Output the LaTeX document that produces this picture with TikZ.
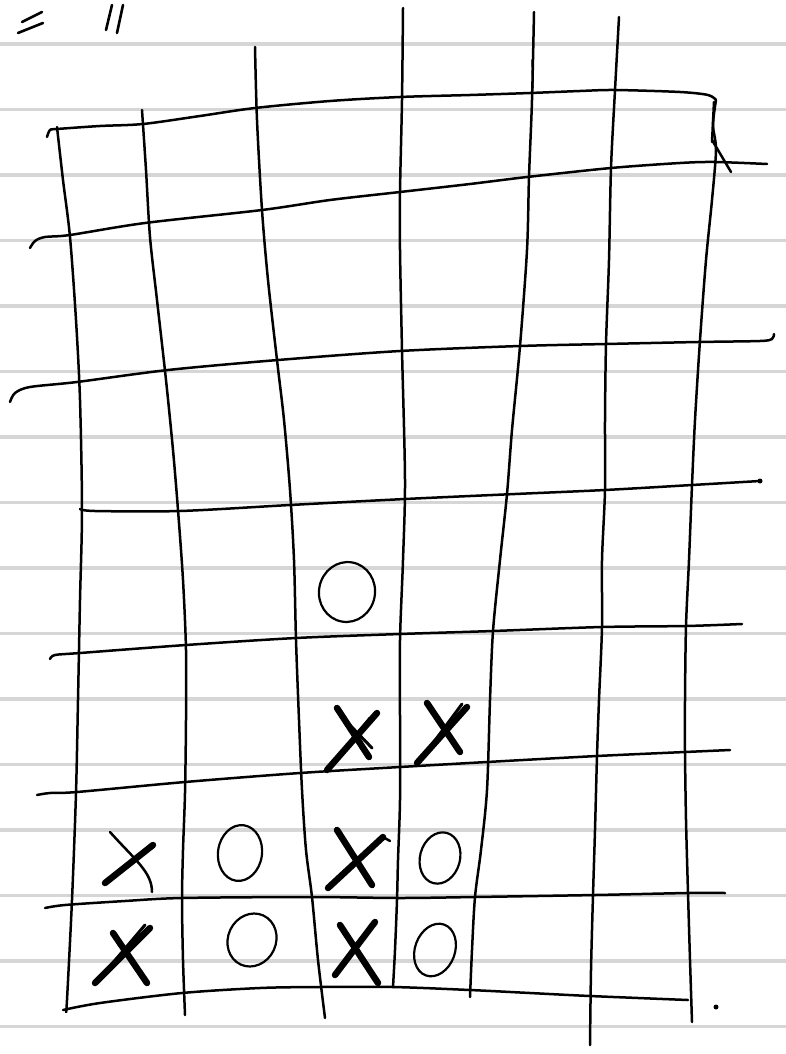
\documentclass[tikz,border=0pt]{standalone}
\begin{document}
\begin{tikzpicture}[x=1pt,y=-1pt,
  ink/.style={line width=2.5pt, line cap=round, line join=round, black},
  rule/.style={line width=3.5pt, black!16},
  xstroke/.style={line width=6.5pt, line cap=round, black},
  omark/.style={line width=2.2pt, black}]
\fill[white] (0,0) rectangle (786,1054);
\useasboundingbox (0,0) rectangle (786,1054);
% ruled paper
\foreach \i in {0,...,15} \draw[rule] (0,44+65.5*\i) -- (786,44+65.5*\i);
% marks at top left
\draw[ink,line width=2.6pt] (22,22)--(42,12) (18,33)--(43,23) (106,30)--(112,5) (117,33)--(123,5);
% vertical lines
\draw[ink] plot[smooth] coordinates {(57,127)(63,180)(70,237)(76,320)(80,400)(82,510)(80,600)(78,700)(76,793)(72,900)(67,1000)(66,1012)};
\draw[ink] plot[smooth] coordinates {(142,110)(146,170)(150,237)(157,300)(166,380)(173,450)(178,510)(183,580)(186,650)(186,720)(185,793)(183,850)(182,900)(183,960)(185,1015)};
\draw[ink] plot[smooth] coordinates {(255,47)(257,120)(262,210)(268,280)(277,360)(284,420)(290,490)(294,560)(296,640)(299,720)(302,790)(306,850)(312,897)(318,960)(325,1018)};
\draw[ink] plot[smooth] coordinates {(403,8)(402,100)(400,192)(400,250)(402,350)(405,480)(403,560)(400,640)(400,720)(400,800)(398,860)(397,900)(395,950)(393,987)};
\draw[ink] plot[smooth] coordinates {(534,12)(532,100)(529,177)(527,250)(520,346)(512,430)(507,494)(500,560)(493,631)(490,700)(487,790)(481,850)(475,897)(472,950)(470,997)};
\draw[ink,line width=1.5pt] (532,60)--(533,88);
\draw[ink] plot[smooth] coordinates {(619,17)(615,90)(611,168)(609,260)(606,344)(605,420)(605,490)(602,560)(602,627)(599,700)(597,756)(595,830)(593,895)(591,970)(590,1045)};
\draw[ink] plot[smooth] coordinates {(716,100)(713,125)(716,150)(712,200)(706,260)(700,340)(695,420)(692,485)(689,560)(686,626)(685,700)(685,752)(686,820)(688,893)(690,960)(692,1022)};
\draw[ink] (712,140)--(731,172);
\draw[ink] (714,102)--(712,142);
\fill (716,1007) circle (2.5pt);
% horizontal lines
\draw[ink] plot[smooth] coordinates {(47,137)(50,130)(57,129)(100,126)(143,124)(200,116)(255,108)(330,101)(400,97)(470,95)(530,93)(580,91)(615,90)(680,92)(708,95)(716,100)};
\draw[ink] plot[smooth] coordinates {(30,248)(35,241)(45,237)(70,235)(145,223)(262,210)(330,200)(400,192)(470,184)(527,177)(611,168)(680,163)(715,162)(767,164)};
\draw[ink] plot[smooth] coordinates {(10,402)(15,393)(30,387)(77,382)(168,370)(278,360)(400,351)(520,346)(606,344)(698,342)(760,341)(772,339)(774,334)};
\draw[ink] plot[smooth] coordinates {(80,509)(95,511)(180,511)(290,505)(405,499)(515,494)(605,490)(692,485)(760,481)};
\fill (760,481) circle (2.5pt);
\draw[ink] plot[smooth] coordinates {(50,659)(55,655)(80,653)(186,645)(296,638)(400,634)(493,631)(602,627)(686,626)(742,624)};
\draw[ink] plot[smooth] coordinates {(37,795)(50,793)(77,792)(185,782)(300,773)(400,767)(487,762)(597,756)(685,752)(730,750)};
\draw[ink] plot[smooth] coordinates {(45,908)(65,905)(125,901)(182,898)(310,897)(400,898)(475,897)(595,895)(688,893)(725,893)};
\draw[ink] plot[smooth] coordinates {(63,1010)(100,1003)(182,993)(260,988)(320,987)(393,987)(470,990)(530,993)(590,996)(688,1000)};
% O marks
\draw[omark] (347,592) ellipse [x radius=28, y radius=30, rotate=-10];
\draw[omark] (240,853) ellipse [x radius=22, y radius=28, rotate=-8];
\draw[omark] (440,858) ellipse [x radius=20, y radius=26, rotate=-15];
\draw[omark] (252,940) ellipse [x radius=24, y radius=27, rotate=-25];
\draw[omark] (435,950) ellipse [x radius=20, y radius=27, rotate=-20];
% X marks
\draw[xstroke] (327,770)--(377,713) (337,708)--(369,757);
\draw[xstroke,line width=3pt] (345,720)--(372,748) (333,765)--(370,718);
\draw[xstroke] (417,763)--(467,707) (427,703)--(460,752);
\draw[xstroke,line width=3pt] (422,758)--(462,704);
\draw[xstroke] (105,883)--(153,845);
\draw[ink] (110,832) .. controls (135,860) and (152,872) .. (152,892);
\draw[xstroke] (328,888)--(383,837) (337,830)--(372,885);
\draw[ink] (383,837)--(390,841);
\draw[xstroke] (95,983)--(150,928) (113,933)--(147,983);
\draw[xstroke,line width=3pt] (100,978)--(145,925);
\draw[xstroke] (335,975)--(375,922) (340,925)--(378,983);
\end{tikzpicture}
\end{document}
